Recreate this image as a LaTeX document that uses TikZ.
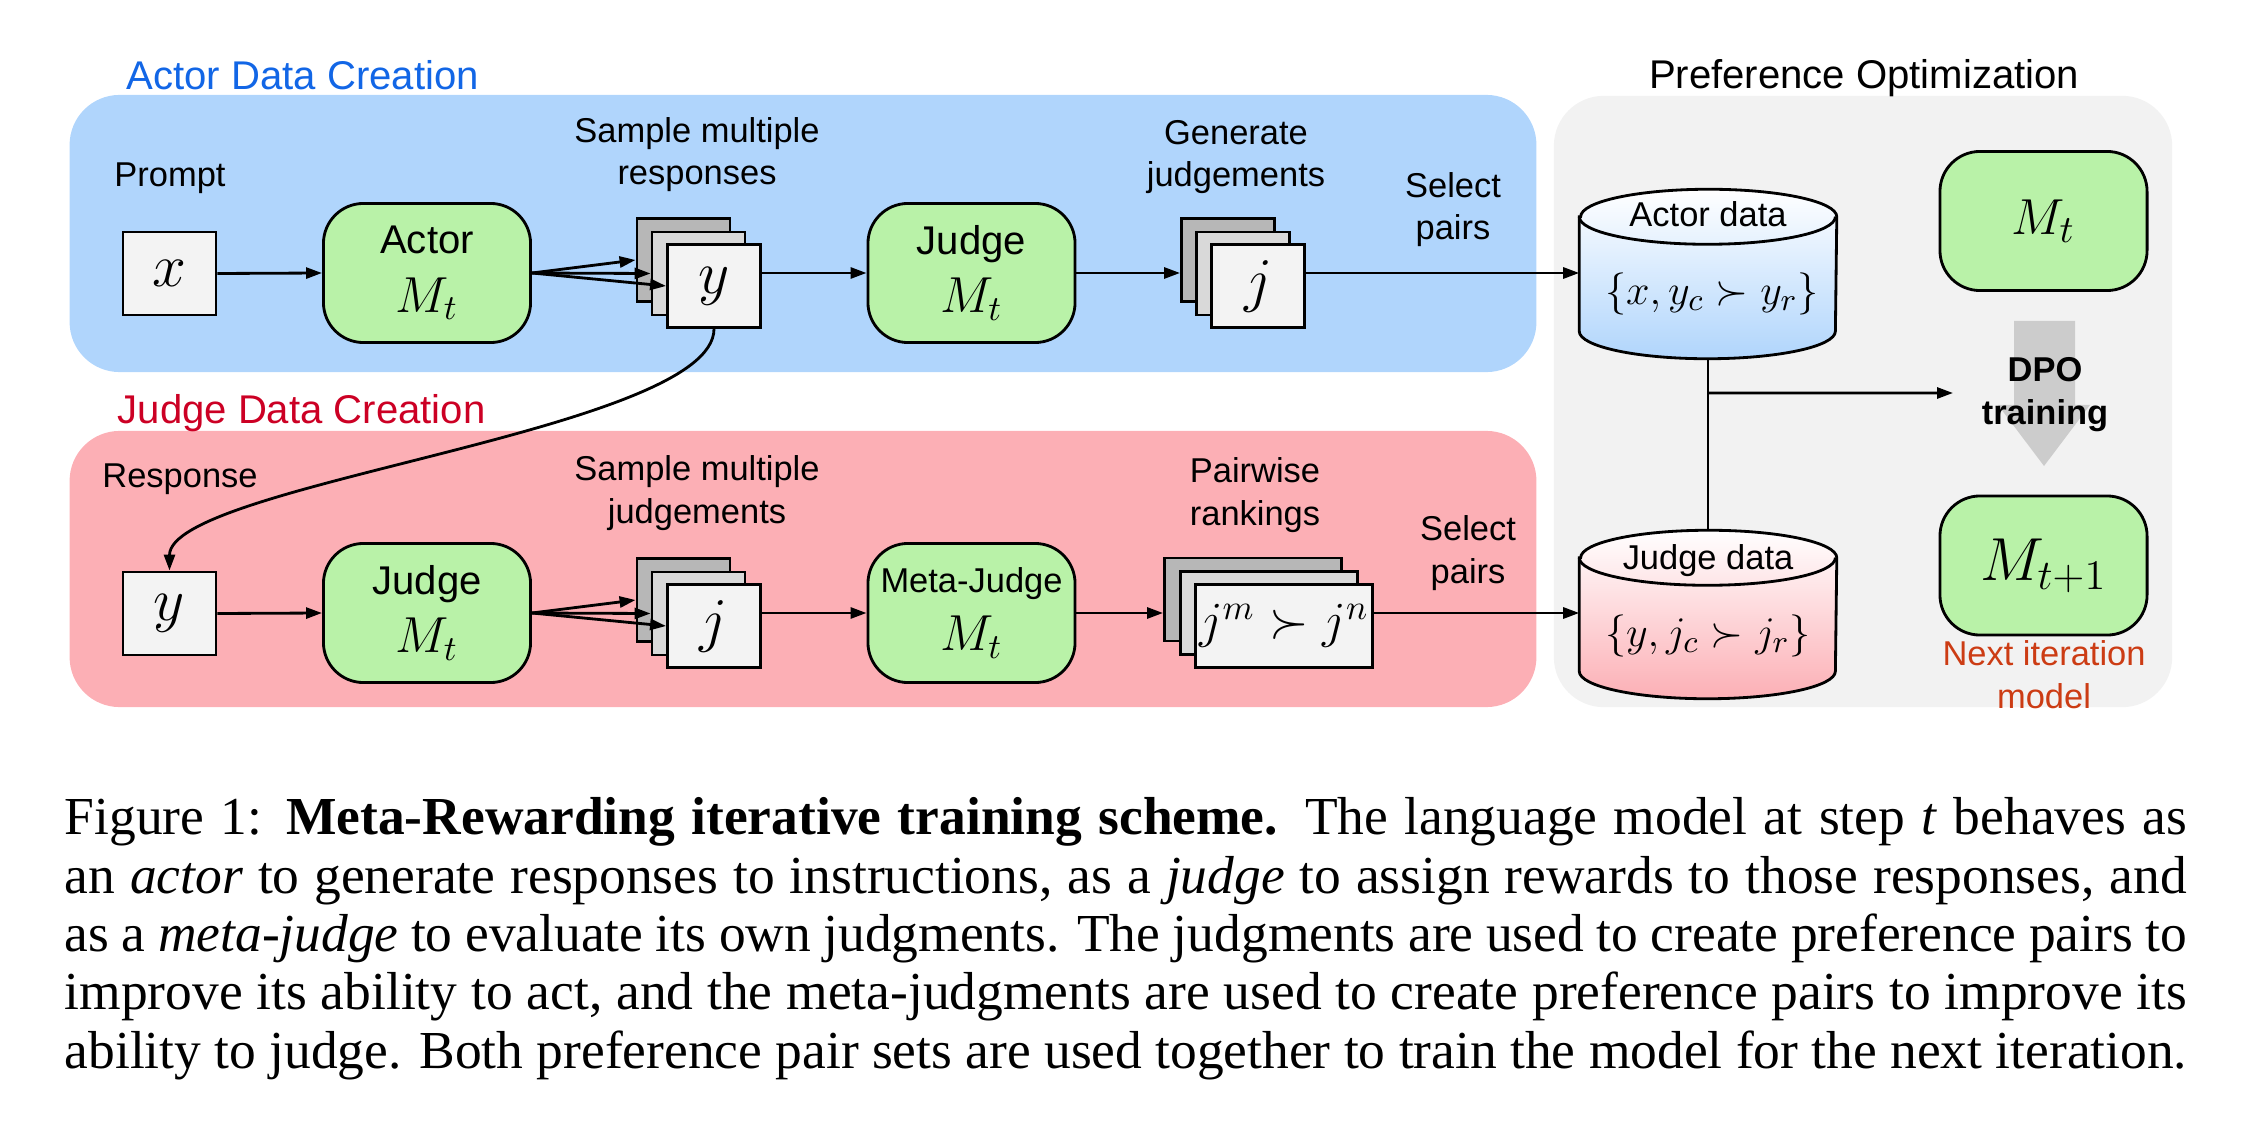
\documentclass[tikz,border=0pt]{standalone}
\usepackage{tikz}
\usetikzlibrary{arrows.meta, positioning, calc}
\usepackage{fontspec}
\setsansfont{Liberation Sans}
\newfontfamily\capfont{Liberation Serif}
\usepackage{xcolor}
\usepackage{amsmath}
\usepackage{amssymb}

\definecolor{actpanel}{RGB}{176,213,252}
\definecolor{jdgpanel}{RGB}{252,175,181}
\definecolor{optpanel}{RGB}{242,242,242}
\definecolor{modelgreen}{RGB}{185,242,168}
\definecolor{sheetlight}{RGB}{243,243,243}
\definecolor{sheetmid}{RGB}{217,217,217}
\definecolor{sheetdark}{RGB}{183,183,183}
\definecolor{actblue}{RGB}{18,102,230}
\definecolor{jdgred}{RGB}{204,0,36}
\definecolor{nextred}{RGB}{204,60,20}
\definecolor{dpogray}{RGB}{204,204,204}

\begin{document}
\begin{tikzpicture}[x=0.01cm, y=-0.01cm,
    panel/.style={rounded corners=0.5cm, inner sep=0pt},
    model/.style={draw, line width=0.8pt, rounded corners=0.4cm, fill=modelgreen,
                  minimum width=2.07cm, minimum height=1.39cm, inner sep=0pt,
                  align=center, font=\sffamily\fontsize{11.4}{16.5}\selectfont},
    sheet/.style={draw, line width=0.8pt, minimum width=0.93cm, minimum height=0.83cm,
                  inner sep=0pt, font=\fontsize{17}{20}\selectfont},
    wsheet/.style={sheet, minimum width=1.77cm, font=\fontsize{13.9}{16}\selectfont},
    lbl/.style={font=\sffamily\fontsize{9.8}{12.2}\selectfont, align=center, inner sep=0pt},
    grouptitle/.style={font=\sffamily\fontsize{11.4}{14}\selectfont, inner sep=0pt},
    arr/.style={-{Triangle[length=0.16cm, width=0.11cm]}, line width=0.8pt}
]
    \useasboundingbox (0,0) rectangle (2246,1140);

    % panels
    \node[panel, fill=actpanel, minimum width=14.66cm, minimum height=2.77cm] (actorpanel) at (803,233.5) {};
    \node[panel, fill=jdgpanel, minimum width=14.66cm, minimum height=2.76cm] (judgepanel) at (803,569) {};
    \node[panel, fill=optpanel, minimum width=6.18cm, minimum height=6.11cm] (optpanel) at (1863,401.5) {};
    \node[grouptitle, text=actblue, anchor=base west] at (126,90) {Actor Data Creation};
    \node[grouptitle, text=jdgred, anchor=base west] at (117,423) {Judge Data Creation};
    \node[grouptitle, anchor=base] at (1864,89) {Preference Optimization};

    % actor row
    \node[sheet, fill=sheetlight] (xbox) at (169.5,273.5) {$x$};
    \node[lbl, anchor=base] at (170,187) {Prompt};
    \node[model] (actor) at (427,273) {Actor\\{\fontsize{14.3}{16.5}\selectfont$M_t$}};
    \node[sheet, fill=sheetdark] (resp3) at (683.5,260) {};
    \node[sheet, fill=sheetmid] (resp2) at (698.5,273.5) {};
    \node[sheet, fill=sheetlight] (resp1) at (714,286) {$y$};
    \node[lbl, anchor=base] at (697,185) {Sample multiple\\responses};
    \node[model] (judge) at (971.5,273) {Judge\\{\fontsize{14.3}{16.5}\selectfont$M_t$}};
    \node[sheet, fill=sheetdark] (jdg3) at (1228,260) {};
    \node[sheet, fill=sheetmid] (jdg2) at (1243,273.5) {};
    \node[sheet, fill=sheetlight] (jdg1) at (1258,286) {$j$};
    \node[lbl, anchor=base] at (1236,187) {Generate\\judgements};
    \node[lbl, anchor=base] at (1453,240) {Select\\pairs};

    % judge row
    \node[sheet, fill=sheetlight] (ybox) at (169.5,613.5) {$y$};
    \node[lbl, anchor=base] at (180,487) {Response};
    \node[model] (judgetwo) at (427,613) {Judge\\{\fontsize{14.3}{16.5}\selectfont$M_t$}};
    \node[sheet, fill=sheetdark] (jst3) at (683.5,600) {};
    \node[sheet, fill=sheetmid] (jst2) at (698.5,613.5) {};
    \node[sheet, fill=sheetlight] (jst1) at (714,626) {$j$};
    \node[lbl, anchor=base] at (697,523) {Sample multiple\\judgements};
    \node[model] (metajudge) at (971.5,613) {{\fontsize{9.8}{16.5}\selectfont Meta-Judge}\\{\fontsize{14.3}{16.5}\selectfont$M_t$}};
    \node[wsheet, fill=sheetdark] (rank3) at (1253,599.5) {};
    \node[wsheet, fill=sheetmid] (rank2) at (1269,613) {};
    \node[wsheet, fill=sheetlight] (rank1) at (1284,626) {$j^m \succ j^n$};
    \node[lbl, anchor=base] at (1255,525) {Pairwise\\rankings};
    \node[lbl, anchor=base] at (1468,583) {Select\\pairs};

    % data stores
    \node[minimum width=2.56cm, minimum height=1.68cm, inner sep=0pt] (actdata) at (1708,274) {};
    \node[minimum width=2.56cm, minimum height=1.67cm, inner sep=0pt] (jdgdata) at (1708,614.5) {};
    \shadedraw[line width=0.8pt, top color=white, bottom color=actpanel]
        ([yshift=-0.275cm]actdata.north west) -- ([yshift=0.275cm]actdata.south west)
        arc[start angle=180, end angle=360, x radius=1.28cm, y radius=0.275cm]
        -- ([yshift=-0.275cm]actdata.north east)
        arc[start angle=0, end angle=180, x radius=1.28cm, y radius=0.275cm] -- cycle;
    \draw[line width=0.8pt] ([yshift=-0.275cm]actdata.north west)
        arc[start angle=180, end angle=360, x radius=1.28cm, y radius=0.275cm];
    \shadedraw[line width=0.8pt, top color=white, bottom color=jdgpanel]
        ([yshift=-0.275cm]jdgdata.north west) -- ([yshift=0.275cm]jdgdata.south west)
        arc[start angle=180, end angle=360, x radius=1.28cm, y radius=0.275cm]
        -- ([yshift=-0.275cm]jdgdata.north east)
        arc[start angle=0, end angle=180, x radius=1.28cm, y radius=0.275cm] -- cycle;
    \draw[line width=0.8pt] ([yshift=-0.275cm]jdgdata.north west)
        arc[start angle=180, end angle=360, x radius=1.28cm, y radius=0.275cm];
    \node[lbl, anchor=base] at (1708,227) {Actor data};
    \node[inner sep=0pt, font=\fontsize{13.1}{15}\selectfont] at (1712,294) {$\{x, y_c \succ y_r\}$};
    \node[lbl, anchor=base] at (1708,569) {Judge data};
    \node[inner sep=0pt, font=\fontsize{13.1}{15}\selectfont] at (1708,636) {$\{y, j_c \succ j_r\}$};

    % optimization
    \node[model, font=\fontsize{15}{17}\selectfont] (mcur) at (2043.5,221) {$M_t$};
    \node[model, font=\fontsize{17}{19}\selectfont] (mnext) at (2043.5,565.5) {$M_{t+1}$};
    \fill[dpogray] (2014,321) -- (2075,321) -- (2075,405) -- (2090,405) -- (2044,466)
        -- (1998,405) -- (2014,405) -- cycle;
    \node[lbl, font=\sffamily\bfseries\fontsize{9.8}{12.2}\selectfont, anchor=base] (dpo) at (2045,424) {DPO\\training};
    \node[lbl, text=nextred, anchor=base] at (2044,708) {Next iteration\\model};
    \coordinate (dpoin) at (1953,393);

    % connectors
    \draw[arr] (xbox.east) -- (actor.west);
    \draw[arr] (actor.east) -- (resp3.west);
    \draw[arr] (actor.east) -- (resp2.west);
    \draw[arr] (actor.east) -- (resp1.west);
    \draw[arr] (resp1.east |- judge.west) -- (judge.west);
    \draw[arr] (judge.east) -- (jdg3.west |- judge.east);
    \draw[arr] (jdg1.east |- judge.east) -- (actdata.west |- judge.east);
    \draw[arr] (resp1.south) .. controls +(0,102) and +(0,-87) .. (ybox.north);
    \draw[arr] (ybox.east) -- (judgetwo.west);
    \draw[arr] (judgetwo.east) -- (jst3.west);
    \draw[arr] (judgetwo.east) -- (jst2.west);
    \draw[arr] (judgetwo.east) -- (jst1.west);
    \draw[arr] (jst1.east |- metajudge.west) -- (metajudge.west);
    \draw[arr] (metajudge.east) -- (rank3.west |- metajudge.east);
    \draw[arr] (rank1.east |- metajudge.east) -- (jdgdata.west |- metajudge.east);
    \draw[line width=0.8pt] (actdata.south) -- coordinate[pos=0.2] (fork) (jdgdata.north);
    \draw[arr] (fork) -- (dpoin);

    % caption
    \node[anchor=north west, text width=21.21cm, align=justify, inner sep=0pt,
          font=\capfont\fontsize{15.2}{16.6}\selectfont] (caption) at (64,797)
    {Figure 1: \textbf{Meta-Rewarding iterative training scheme.} The language model at step \textit{t} behaves as\linebreak
     an \textit{actor} to generate responses to instructions, as a \textit{judge} to assign rewards to those responses, and\linebreak
     as a \textit{meta-judge} to evaluate its own judgments. The judgments are used to create preference pairs to\linebreak
     improve its ability to act, and the meta-judgments are used to create preference pairs to improve its\linebreak
     ability to judge. Both preference pair sets are used together to train the model for the next iteration.};
\end{tikzpicture}
\end{document}
